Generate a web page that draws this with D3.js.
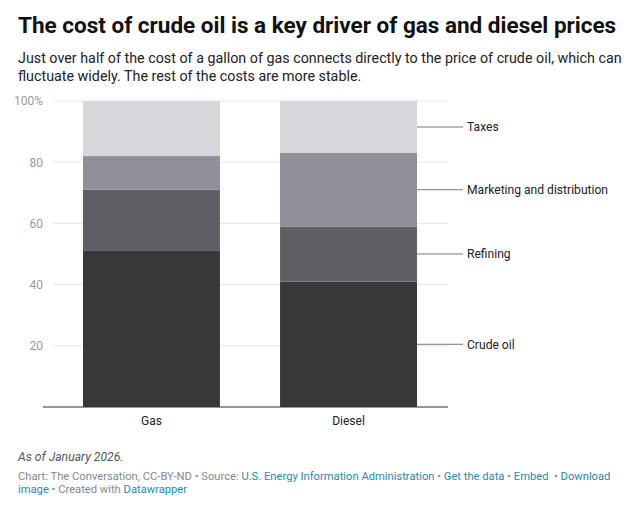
<!DOCTYPE html>
<html>
<head>
<meta charset="utf-8">
<script src="https://cdn.jsdelivr.net/npm/d3@7"></script>
<style>
  body { margin: 0; background: #fff; font-family: Roboto, "Noto Sans", sans-serif; }
  svg text { font-family: Roboto, "Noto Sans", sans-serif; }
</style>
</head>
<body>
<div id="chart"></div>
<script>
// fuels on the x axis
const fuels = ["Gas", "Diesel"];
// share of pump price, percent, bottom to top
const parts = ["Crude oil", "Refining", "Marketing and distribution", "Taxes"];
const crude = [51, 41];
const refining = [20, 18];
const marketing = [11, 24];
const taxes = [18, 17];
const yTicks = [20, 40, 60, 80, 100];

const colors = ["#383838", "#5e5e64", "#8f8f97", "#d7d7db"];

const W = 640, H = 513;
const margin = {top: 101, left: 53, right: 192, bottom: 106};
const width = W - margin.left - margin.right,
      height = H - margin.top - margin.bottom;

const svg = d3.select("#chart").append("svg")
  .attr("width", W)
  .attr("height", H);

svg.append("text")
  .attr("x", 18).attr("y", 33)
  .style("font-size", "22.5px").style("font-weight", 700).style("fill", "#111")
  .text("The cost of crude oil is a key driver of gas and diesel prices");

const sub = ["Just over half of the cost of a gallon of gas connects directly to the price of crude oil, which can",
             "fluctuate widely. The rest of the costs are more stable."];
svg.selectAll(".sub").data(sub).enter().append("text")
  .attr("class", "sub")
  .attr("x", 18).attr("y", (d, i) => 63 + i * 18)
  .style("font-size", "14.3px").style("fill", "#222")
  .text(d => d);

const g = svg.append("g")
  .attr("transform", "translate(" + margin.left + "," + margin.top + ")");

const table = fuels.map((f, i) => ({
  fuel: f,
  "Crude oil": crude[i],
  "Refining": refining[i],
  "Marketing and distribution": marketing[i],
  "Taxes": taxes[i]
}));
const stacked = d3.stack().keys(parts)(table);

const x = d3.scaleBand()
  .domain(fuels)
  .range([30, 364])
  .paddingInner(0.305)
  .paddingOuter(0);
const y = d3.scaleLinear()
  .domain([0, 100])
  .range([height, 0]);

// gridlines
g.append("g").selectAll("line").data(yTicks).enter().append("line")
  .attr("x1", 0).attr("x2", width)
  .attr("y1", d => y(d)).attr("y2", d => y(d))
  .style("stroke", "#e6e6e6").style("stroke-width", 1);

const yAxis = d3.axisLeft(y).tickValues(yTicks)
  .tickSize(0).tickPadding(10)
  .tickFormat(d => d === 100 ? "100%" : d);
g.append("g")
  .attr("class", "axis axis-y")
  .call(yAxis)
  .call(a => a.select(".domain").remove())
  .selectAll("text")
  .style("font-size", "12px").style("fill", "#9a9a9a");

g.selectAll(".layer").data(stacked).enter().append("g")
  .attr("class", "layer")
  .style("fill", (d, i) => colors[i])
  .selectAll("rect").data(d => d).enter().append("rect")
  .attr("x", d => x(d.data.fuel))
  .attr("width", x.bandwidth())
  .attr("y", d => y(d[1]))
  .attr("height", d => y(d[0]) - y(d[1]));

// baseline
g.append("line")
  .attr("x1", -10).attr("x2", width)
  .attr("y1", y(0)).attr("y2", y(0))
  .style("stroke", "#333").style("stroke-width", 1);

const xAxis = d3.axisBottom(x).tickSize(0).tickPadding(9);
g.append("g")
  .attr("class", "axis axis-x")
  .attr("transform", "translate(0," + height + ")")
  .call(xAxis)
  .call(a => a.select(".domain").remove())
  .selectAll("text")
  .style("font-size", "12px").style("fill", "#222");

// direct labels on the last bar
const last = fuels.length - 1;
const xEnd = x(fuels[last]) + x.bandwidth();
const lbl = g.selectAll(".lbl").data(stacked).enter().append("g")
  .attr("class", "lbl")
  .attr("transform", d => "translate(0," + y((d[last][0] + d[last][1]) / 2) + ")");
lbl.append("line")
  .attr("x1", xEnd).attr("x2", xEnd + 46)
  .style("stroke", "#777").style("stroke-width", 1);
lbl.append("text")
  .attr("x", xEnd + 50).attr("dy", "0.35em")
  .style("font-size", "12.1px").style("fill", "#222")
  .text(d => d.key);

// footer
svg.append("text")
  .attr("x", 18).attr("y", 461)
  .style("font-size", "12.2px").style("font-style", "italic").style("fill", "#555")
  .text("As of January 2026.");

const grey = "#888", link = "#2a89b0";
const f1 = svg.append("text").attr("x", 18).attr("y", 480).style("font-size", "11.2px");
[["Chart: The Conversation, CC-BY-ND \u2022 Source: ", grey],
 ["U.S. Energy Information Administration", link],
 [" \u2022 ", grey], ["Get the data", link],
 [" \u2022 ", grey], ["Embed", link],
 [" \u00a0\u2022 ", grey], ["Download", link]]
  .forEach(p => f1.append("tspan").style("fill", p[1]).text(p[0]));
const f2 = svg.append("text").attr("x", 18).attr("y", 493).style("font-size", "11.2px");
[["image", link], [" \u2022 Created with ", grey], ["Datawrapper", link]]
  .forEach(p => f2.append("tspan").style("fill", p[1]).text(p[0]));
</script>
</body>
</html>
